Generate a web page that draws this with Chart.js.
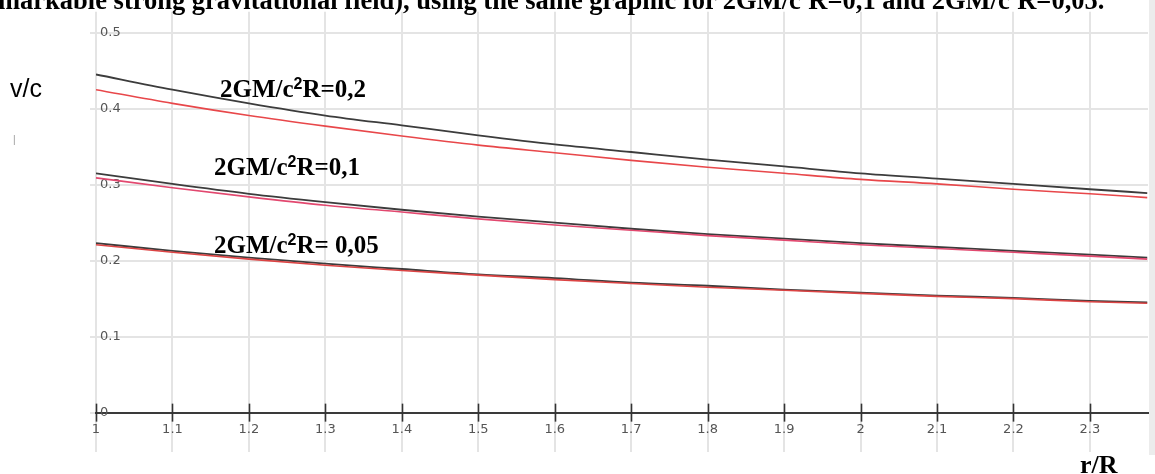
<!DOCTYPE html>
<html>
<head>
<meta charset="utf-8">
<script src="https://cdn.jsdelivr.net/npm/chart.js@4.4.1/dist/chart.umd.min.js"></script>
<style>
  html, body { margin: 0; padding: 0; background: #fff; }
  #wrap { position: relative; width: 1155px; height: 474px; overflow: hidden; }
  #chart { position: absolute; left: 0; top: 0; }
  .txt { position: absolute; white-space: nowrap; color: #000; }
  .serif { font-family: "Liberation Serif", "Times New Roman", serif; font-weight: bold; }
  .lbl { font-size: 25px; line-height: 25px; }
  .lbl sup { font-family: "Liberation Sans", Arial, sans-serif; font-weight: bold; font-size: 16px; position: relative; top: -5px; vertical-align: top; }
  #edge { position: absolute; left: 1149px; top: 0; width: 6px; height: 455px; background: #ececec; }
</style>
</head>
<body>
<div id="wrap">
  <canvas id="chart" width="1155" height="474"></canvas>
  <div id="edge"></div>
  <div class="txt serif" style="left:-2px; top:-21px; font-size:26.5px; line-height:30px;">markable strong gravitational field), using the same graphic for 2GM/c<sup style="font-size:15px">2</sup>R=0,1 and 2GM/c<sup style="font-size:15px">2</sup>R=0,05.</div>
  <div class="txt" style="left:10px; top:74px; font-family:'Liberation Sans',Arial,sans-serif; font-size:25px;">v/c</div>
  <div class="txt" style="left:13px; top:134px; font-family:'Liberation Sans',Arial,sans-serif; font-size:10px; color:#999;">|</div>
  <div class="txt serif lbl" style="left:220px; top:76px;">2GM/c<sup>2</sup>R=0,2</div>
  <div class="txt serif lbl" style="left:214px; top:154px;">2GM/c<sup>2</sup>R=0,1</div>
  <div class="txt serif lbl" style="left:214px; top:232px;">2GM/c<sup>2</sup>R= 0,05</div>
  <div class="txt serif" style="left:1080px; top:450px; font-size:26px;">r/R</div>
</div>
<script>
/* values */
const rValues = [1.0, 1.1, 1.2, 1.3, 1.4, 1.5, 1.6, 1.7, 1.8, 1.9, 2.0, 2.1, 2.2, 2.3, 2.375];

const black02 = [0.445, 0.425, 0.407, 0.391, 0.378, 0.365, 0.353, 0.343, 0.333, 0.324, 0.315, 0.308, 0.301, 0.294, 0.289];
const red02   = [0.425, 0.407, 0.391, 0.377, 0.364, 0.352, 0.342, 0.332, 0.323, 0.315, 0.307, 0.301, 0.294, 0.288, 0.283];
const black01 = [0.315, 0.301, 0.288, 0.277, 0.267, 0.258, 0.250, 0.242, 0.235, 0.229, 0.223, 0.218, 0.213, 0.208, 0.204];
const red01   = [0.309, 0.296, 0.284, 0.273, 0.264, 0.255, 0.247, 0.240, 0.233, 0.227, 0.221, 0.216, 0.211, 0.206, 0.202];
const black005 = [0.223, 0.213, 0.204, 0.196, 0.189, 0.182, 0.177, 0.171, 0.167, 0.162, 0.158, 0.154, 0.151, 0.147, 0.145];
const red005   = [0.221, 0.211, 0.202, 0.194, 0.187, 0.181, 0.175, 0.170, 0.165, 0.161, 0.157, 0.153, 0.150, 0.146, 0.144];

const xTicks = [1, 1.1, 1.2, 1.3, 1.4, 1.5, 1.6, 1.7, 1.8, 1.9, 2, 2.1, 2.2, 2.3];
const yTicks = [0, 0.1, 0.2, 0.3, 0.4, 0.5];

function pts(vals) {
  return rValues.map((r, i) => ({ x: r, y: vals[i] }));
}

function line(vals, color, width, order) {
  return {
    data: pts(vals),
    borderColor: color,
    borderWidth: width,
    pointRadius: 0,
    fill: false,
    cubicInterpolationMode: "monotone",
    order: order
  };
}

function keepTicks(list) {
  return scale => {
    scale.ticks = scale.ticks.filter(t => list.some(v => Math.abs(v - t.value) < 1e-6));
  };
}

function fmt(v) {
  return String(Math.round(v * 10) / 10);
}

/* tick marks crossing the r/R axis */
const crossTicks = {
  id: "crossTicks",
  afterDraw(chart) {
    const ctx = chart.ctx;
    const x = chart.scales.x;
    const y0 = chart.scales.y.getPixelForValue(0);
    ctx.save();
    ctx.strokeStyle = "#333";
    ctx.lineWidth = 1.6;
    xTicks.forEach(v => {
      const px = Math.round(x.getPixelForValue(v)) + 0.5;
      ctx.beginPath();
      ctx.moveTo(px, y0 - 9);
      ctx.lineTo(px, y0 + 9);
      ctx.stroke();
    });
    ctx.restore();
  }
};

new Chart(document.getElementById("chart"), {
  type: "line",
  data: {
    datasets: [
      line(black02, "#3c3c3c", 1.8, 1),
      line(red02, "#e8474a", 1.6, 0),
      line(black01, "#3c3c3c", 1.8, 1),
      line(red01, "#e2486f", 1.6, 0),
      line(black005, "#3c3c3c", 1.8, 1),
      line(red005, "#dc4444", 1.6, 0)
    ]
  },
  options: {
    responsive: false,
    animation: false,
    layout: { padding: { left: 90, right: 7, top: 10, bottom: 22 } },
    plugins: { legend: { display: false }, title: { display: false }, tooltip: { enabled: false } },
    scales: {
      x: {
        type: "linear",
        position: { y: 0 },
        min: 1,
        max: 2.376,
        afterBuildTicks: keepTicks(xTicks),
        ticks: {
          stepSize: 0.1,
          autoSkip: false,
          maxRotation: 0,
          padding: 9,
          color: "#555",
          font: { family: "DejaVu Sans", size: 13 },
          callback: fmt
        },
        grid: { color: "#e4e4e4", lineWidth: 2, drawTicks: false },
        border: { display: true, color: "#3a3a3a", width: 2 }
      },
      y: {
        type: "linear",
        position: "left",
        min: -0.0518,
        max: 0.5275,
        afterBuildTicks: keepTicks(yTicks),
        afterFit: scale => { scale.width = 6; },
        ticks: {
          stepSize: 0.1,
          mirror: true,
          padding: 4,
          color: "#555",
          font: { family: "DejaVu Sans", size: 13 },
          callback: fmt
        },
        grid: { color: "#e4e4e4", lineWidth: 2, tickLength: 6 },
        border: { display: false }
      }
    }
  },
  plugins: [crossTicks]
});
</script>
</body>
</html>
